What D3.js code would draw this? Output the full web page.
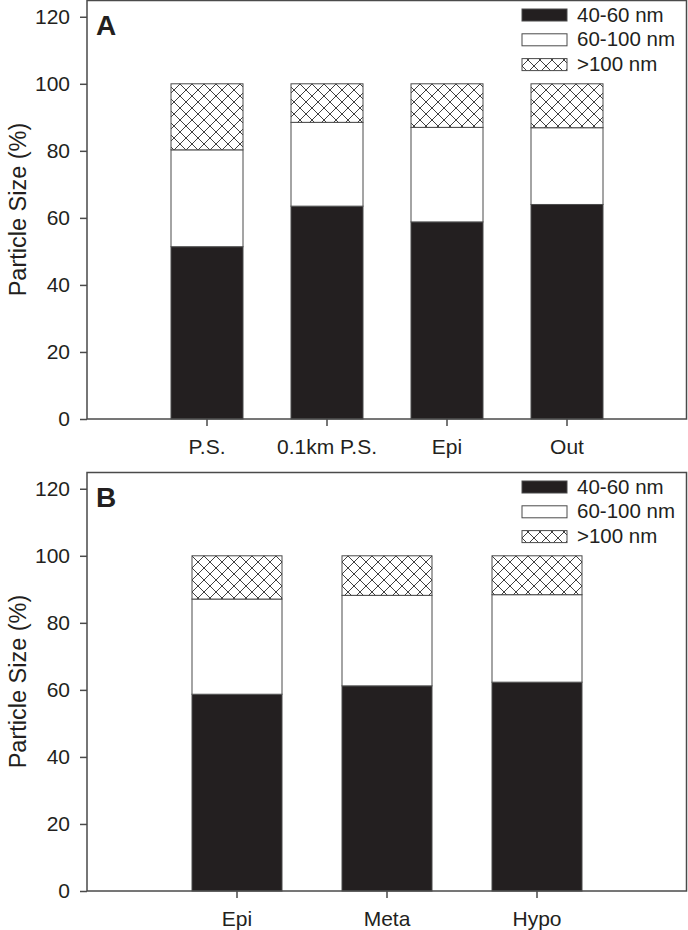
<!DOCTYPE html>
<html>
<head>
<meta charset="utf-8">
<script src="https://cdn.jsdelivr.net/npm/d3@7"></script>
<style>
  html, body { margin: 0; padding: 0; background: #fff; }
  svg { display: block; font-family: "Liberation Sans", Arial, sans-serif; }
</style>
</head>
<body>
<script>
// ---- Data ----
const seriesNames = ["40-60 nm", "60-100 nm", ">100 nm"];
const yTicks = [0, 20, 40, 60, 80, 100, 120];
const yLabel = "Particle Size (%)";

const categoriesA = ["P.S.", "0.1km P.S.", "Epi", "Out"];
const a40to60 = [51.4, 63.5, 58.8, 64.0];
const a60to100 = [28.9, 25.0, 28.2, 22.9];
const aOver100 = [19.7, 11.5, 13.0, 13.1];

const categoriesB = ["Epi", "Meta", "Hypo"];
const b40to60 = [58.7, 61.2, 62.3];
const b60to100 = [28.4, 27.0, 26.1];
const bOver100 = [12.9, 11.8, 11.6];

// ---- Layout ----
const W = 688, H = 930;
const svg = d3.select("body").append("svg").attr("width", W).attr("height", H);

const defs = svg.append("defs");
const pat = defs.append("pattern")
  .attr("id", "xhatch").attr("patternUnits", "userSpaceOnUse")
  .attr("width", 12).attr("height", 12);
pat.append("rect").attr("width", 12).attr("height", 12).attr("fill", "#fff");
pat.append("path").attr("d", "M0,0L12,12M12,0L0,12M-1,11L1,13M11,-1L13,1M-1,1L1,-1M11,13L13,11")
  .attr("stroke", "#2a2a2a").attr("stroke-width", 0.9).attr("fill", "none");

const fills = ["#231f20", "#ffffff", "url(#xhatch)"];
const lineCol = "#4a4a4a";
const textCol = "#231f20";

function panel(top, letter, cats, s1, s2, s3) {
  const left = 87, right = 687, plotH = 419;
  const g = svg.append("g").attr("transform", `translate(0,${top})`);
  const x = d3.scaleBand().domain(cats).range([left, right]).paddingInner(0.4).paddingOuter(0.7);
  const y = d3.scaleLinear().domain([0, 125]).range([plotH, 0]);

  const rows = cats.map((c, i) => ({ cat: c, k0: s1[i], k1: s2[i], k2: s3[i] }));
  const stack = d3.stack().keys(["k0", "k1", "k2"])(rows);

  stack.forEach((layer, li) => {
    g.append("g").selectAll("rect").data(layer).join("rect")
      .attr("x", d => x(d.data.cat))
      .attr("width", x.bandwidth())
      .attr("y", d => y(d[1]))
      .attr("height", d => y(d[0]) - y(d[1]))
      .attr("fill", fills[li])
      .attr("stroke", lineCol)
      .attr("stroke-width", 1);
  });

  // frame
  g.append("rect").attr("x", left).attr("y", y(125) + 0.5)
    .attr("width", right - left - 0.5).attr("height", plotH - y(125) - 0.5)
    .attr("fill", "none").attr("stroke", lineCol).attr("stroke-width", 1.5);

  // y axis
  const ya = g.append("g").attr("transform", `translate(${left},0)`)
    .call(d3.axisLeft(y).tickValues(yTicks).tickSize(7).tickPadding(10));
  ya.select(".domain").remove();
  ya.selectAll(".tick line").attr("stroke", lineCol).attr("stroke-width", 1.5);
  ya.selectAll(".tick text").attr("fill", textCol).style("font-size", "21px")
    .style("font-family", '"Liberation Sans", Arial, sans-serif');

  // x axis
  const xa = g.append("g").attr("transform", `translate(0,${plotH})`)
    .call(d3.axisBottom(x).tickSize(7).tickPadding(13));
  xa.select(".domain").remove();
  xa.selectAll(".tick line").attr("stroke", lineCol).attr("stroke-width", 1.5);
  xa.selectAll(".tick text").attr("fill", textCol).style("font-size", "21px")
    .style("font-family", '"Liberation Sans", Arial, sans-serif');

  // y label
  g.append("text").attr("transform", `translate(26,${plotH / 2}) rotate(-90)`)
    .attr("text-anchor", "middle").attr("fill", textCol).style("font-size", "23.5px")
    .text(yLabel);

  // panel letter
  g.append("text").attr("x", 96).attr("y", 35).attr("fill", textCol)
    .style("font-size", "28px").style("font-weight", "bold").text(letter);

  // legend
  const lg = g.append("g");
  seriesNames.forEach((name, i) => {
    const yy = 9 + i * 24.8;
    lg.append("rect").attr("x", 522).attr("y", yy).attr("width", 45).attr("height", 12)
      .attr("fill", fills[i]).attr("stroke", lineCol).attr("stroke-width", 1);
    lg.append("text").attr("x", 577).attr("y", yy + 12.5).attr("fill", textCol)
      .style("font-size", "20.5px").text(name);
  });
}

panel(0, "A", categoriesA, a40to60, a60to100, aOver100);
panel(472, "B", categoriesB, b40to60, b60to100, bOver100);
</script>
</body>
</html>
